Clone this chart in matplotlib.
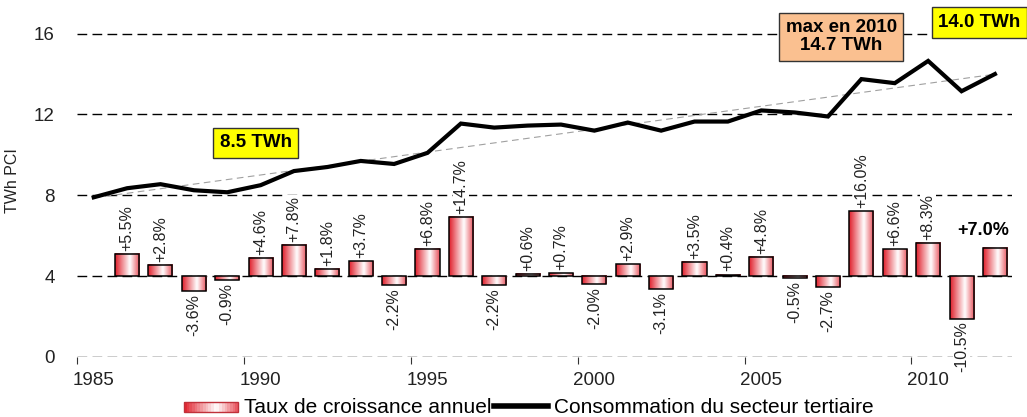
import matplotlib
matplotlib.use("Agg")
import matplotlib.pyplot as plt
import numpy as np
from matplotlib.colors import LinearSegmentedColormap
from matplotlib.patches import Rectangle
from matplotlib.lines import Line2D
from matplotlib.legend_handler import HandlerBase

plt.rcParams['font.family'] = ['Liberation Sans', 'DejaVu Sans']

# consommation du secteur tertiaire (TWh PCI)
years = list(range(1985, 2013))
conso = [7.9, 8.35, 8.55, 8.25, 8.15, 8.5, 9.2, 9.4, 9.7, 9.55, 10.1, 11.55,
         11.35, 11.45, 11.5, 11.2, 11.6, 11.2, 11.65, 11.65, 12.2, 12.1, 11.9,
         13.75, 13.55, 14.65, 13.15, 14.0]

# taux de croissance annuel (%)
bar_years = list(range(1986, 2013))
taux = [5.5, 2.8, -3.6, -0.9, 4.6, 7.8, 1.8, 3.7, -2.2, 6.8, 14.7, -2.2, 0.6,
        0.7, -2.0, 2.9, -3.1, 3.5, 0.4, 4.8, -0.5, -2.7, 16.0, 6.6, 8.3,
        -10.5, 7.0]

base = 4.0     # bars start at 4 on the TWh axis
scale = 0.2    # 1 % -> 0.2 unit

fig = plt.figure(figsize=(10.27, 4.17), dpi=100)
ax = fig.add_axes([0.075, 0.144, 0.91, 0.848])

cm = LinearSegmentedColormap.from_list(
    'rw', [(0, '#e0202c'), (0.6, '#ffffff'), (1, '#e8505a')])
grad = np.linspace(0, 1, 64).reshape(1, -1)

w = 0.72
for yr, t in zip(bar_years, taux):
    top = base + t * scale
    ax.imshow(grad, extent=(yr - w / 2, yr + w / 2, base, top),
              aspect='auto', cmap=cm, zorder=2, interpolation='bicubic')
    ax.add_patch(Rectangle((yr - w / 2, base), w, top - base, fill=False,
                           edgecolor='black', lw=1.1, zorder=3))
    if yr == 2012:
        ax.text(yr - 0.35, top + 0.45, '+%.1f%%' % t, ha='center',
                va='bottom', fontsize=13, fontweight='bold', zorder=5)
        continue
    lab = ('+%.1f%%' % t) if t >= 0 else ('%.1f%%' % t)
    if t >= 0:
        ax.text(yr, top + 0.15, lab, rotation=90, ha='center', va='bottom',
                fontsize=11.5, color='#222222', zorder=4,
                bbox=dict(facecolor='white', edgecolor='none', pad=0.5))
    else:
        ax.text(yr, top - 0.15, lab, rotation=90, ha='center', va='top',
                fontsize=11.5, color='#222222', zorder=4,
                bbox=dict(facecolor='white', edgecolor='none', pad=0.5))

# tendance lineaire
yrs = np.array(years, dtype=float)
p = np.polyfit(yrs, conso, 1)
ax.plot(yrs, np.polyval(p, yrs), color='#a0a0a0', lw=0.8,
        ls=(0, (6, 4)), zorder=5)

ax.plot(years, conso, color='black', lw=3, zorder=6,
        solid_joinstyle='miter')

for g in [0, 4, 8, 12, 16]:
    ax.axhline(g, color='black', lw=1.0, ls=(0, (7, 3.8)), zorder=1)

ax.set_xlim(1984.5, 2012.5)
ax.set_ylim(0, 17.5)
for s in ax.spines.values():
    s.set_visible(False)

ax.set_xticks(np.arange(1984.5, 2012, 5))
ax.set_xticklabels([])
ax.set_xticks(np.arange(1985, 2013, 5), minor=True)
ax.set_xticklabels([str(y) for y in range(1985, 2013, 5)], minor=True)
ax.tick_params(axis='x', which='major', length=5, color='#333333')
ax.tick_params(axis='x', which='minor', length=0, labelsize=13.5,
               labelcolor='#222222', pad=11)
ax.set_yticks([0, 4, 8, 12, 16])
ax.tick_params(axis='y', length=0, labelsize=13.5, labelcolor='#222222',
               pad=16)
ax.set_ylabel('TWh PCI', fontsize=11.5, color='#222222', labelpad=10)

box = dict(boxstyle='square,pad=0.35', facecolor='#ffff00',
           edgecolor='#333333', lw=1)
ax.text(1989.85, 10.6, '8.5 TWh', ha='center', va='center', fontsize=13.5,
        fontweight='bold', bbox=box, zorder=7)
ax.text(2007.4, 15.85, 'max en 2010\n14.7 TWh', ha='center', va='center',
        fontsize=13.5, fontweight='bold', linespacing=1.05, zorder=7,
        bbox=dict(boxstyle='square,pad=0.35', facecolor='#fac090',
                  edgecolor='#333333', lw=1))
ax.text(2010.3, 16.55, '14.0 TWh', ha='left', va='center', fontsize=13.5,
        fontweight='bold', bbox=box, zorder=7, clip_on=False)


class GradHandler(HandlerBase):
    def create_artists(self, legend, orig, xd, yd, width, height, fs, trans):
        arts = []
        n = 20
        for i in range(n):
            r = Rectangle((xd + width * i / n, yd + height * 0.1),
                          width / n, height * 0.7,
                          facecolor=cm((i + 0.5) / n), edgecolor='none',
                          transform=trans)
            arts.append(r)
        arts.append(Rectangle((xd, yd + height * 0.1), width, height * 0.7,
                              fill=False, edgecolor='#c0303a', lw=1,
                              transform=trans))
        return arts


h1 = Rectangle((0, 0), 1, 1)
h2 = Line2D([], [], color='black', lw=4)
fig.legend([h1, h2], ['Taux de croissance annuel',
                      'Consommation du secteur tertiaire'],
           handler_map={Rectangle: GradHandler()},
           loc='center', bbox_to_anchor=(0.515, 0.022), ncol=2, frameon=False,
           fontsize=15, handlelength=2.6, handletextpad=0.3,
           columnspacing=0.1, borderaxespad=0)

fig.savefig('out.png', dpi=100)
